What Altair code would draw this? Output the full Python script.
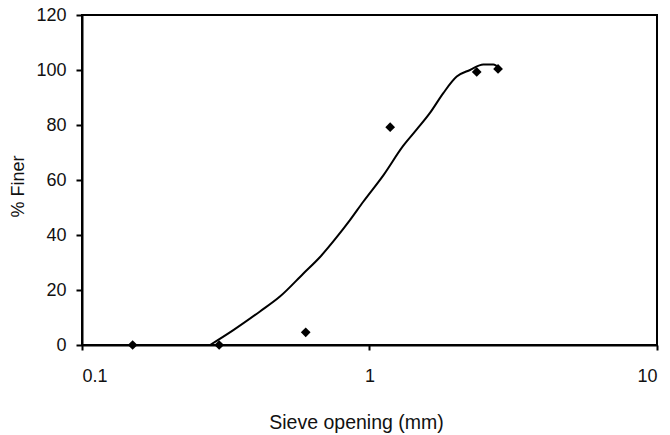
import altair as alt
import pandas as pd

# Measured sieve data (diamonds)
sieve_mm = [0.15, 0.3, 0.6, 1.18, 2.36, 2.8]
pct_finer = [0, 0, 4.6, 79.2, 99.3, 100.4]

# Fitted curve
curve_mm = [0.279, 0.336, 0.416, 0.488, 0.589, 0.673, 0.769, 0.855, 0.951,
            1.117, 1.311, 1.460, 1.623, 1.806, 2.011, 2.237, 2.488, 2.696, 2.83]
curve_pct = [0, 5.4, 12.2, 17.6, 26.0, 32.0, 39.2, 45.4, 52.1,
             61.7, 72.5, 78.4, 84.4, 91.6, 97.6, 100.0, 102.0, 102.0, 100.6]

x_ticks = [0.1, 1, 10]
y_ticks = [0, 20, 40, 60, 80, 100, 120]

pts = pd.DataFrame({"x": sieve_mm, "y": pct_finer})
crv = pd.DataFrame({"x": curve_mm, "y": curve_pct})

FONT = "Liberation Sans"

xs = alt.Scale(type="log", domain=[0.1, 10], nice=False)
ys = alt.Scale(domain=[0, 120], nice=False)

xaxis = alt.Axis(values=x_ticks, format="~g", grid=False, domainColor="black",
                 domainWidth=2, tickColor="black", tickWidth=2, tickSize=5,
                 labelPadding=17, labelFontSize=18, labelFont=FONT, labelColor="#111",
                 title="Sieve opening (mm)", titleFontSize=19.5, titleFont=FONT,
                 titleFontWeight="normal", titleColor="#111",
                 titleX=274, titleY=83, titleAlign="center", titleBaseline="alphabetic")
yaxis = alt.Axis(values=y_ticks, grid=False, domainColor="black", domainWidth=2,
                 tickColor="black", tickWidth=2, tickSize=6, labelPadding=10,
                 labelFontSize=18, labelFont=FONT, labelColor="#111",
                 title="% Finer", titleFontSize=18, titleFont=FONT,
                 titleFontWeight="normal", titleColor="#111",
                 titleX=-59, titleY=171, titleAngle=-90, titleAlign="center",
                 titleBaseline="alphabetic")

line = alt.Chart(crv).mark_line(color="black", strokeWidth=2, interpolate="monotone").encode(
    x=alt.X("x:Q", scale=xs, axis=xaxis),
    y=alt.Y("y:Q", scale=ys, axis=yaxis),
)
points = alt.Chart(pts).mark_point(shape="diamond", filled=True, color="black",
                                   size=95, opacity=1).encode(
    x=alt.X("x:Q", scale=xs),
    y=alt.Y("y:Q", scale=ys),
)

chart = (line + points).properties(
    width=575, height=330,
    autosize=alt.AutoSizeParams(type="none"),
    padding={"left": 74, "top": 7, "right": 5, "bottom": 90},
).configure_view(stroke="black", strokeWidth=2)

chart.save("out.html", embed_options={"renderer": "svg", "actions": False})
